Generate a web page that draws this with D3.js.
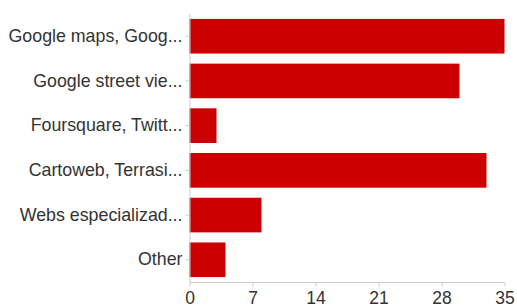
<!DOCTYPE html>
<html><head><meta charset="utf-8">
<script src="https://cdn.jsdelivr.net/npm/d3@7"></script>
<style>body{margin:0;background:#fff}svg{display:block}text{font-family:"Liberation Sans",Arial,sans-serif}</style>
</head><body>
<svg id="c" width="517" height="307"></svg>
<script>
const categories = ["Google maps, Goog...","Google street vie...","Foursquare, Twitt...","Cartoweb, Terrasi...","Webs especializad...","Other"];
const values = [35, 30, 3, 33, 8, 4];
const ticks = [0, 7, 14, 21, 28, 35];

const svg = d3.select("#c");
const x = d3.scaleLinear().domain([0, 35]).range([189.5, 504.5]);
const y = d3.scaleBand().domain(categories).range([14, 282]).paddingInner(0.225).paddingOuter(0.11);

svg.selectAll("rect.bar").data(values).join("rect")
  .attr("class","bar")
  .attr("x", x(0))
  .attr("y", (d,i)=>y(categories[i]))
  .attr("width", d=>x(d)-x(0))
  .attr("height", y.bandwidth())
  .attr("fill", "#cc0000");

// y axis
const ya = svg.append("g").attr("transform",`translate(${x(0)},0)`)
  .call(d3.axisLeft(y).tickSize(4).tickPadding(3));
ya.select(".domain").attr("stroke","#ccc").attr("d", `M0.5,14V282`);
ya.selectAll(".tick line").attr("stroke","#ccc");
ya.selectAll(".tick text").attr("fill","#333").style("font-size","17.8px");

// x axis
const xa = svg.append("g").attr("transform",`translate(0,282.5)`)
  .call(d3.axisBottom(x).tickValues(ticks).tickSize(4).tickPadding(5));
xa.select(".domain").attr("stroke","#ccc").attr("d", `M${x(0)},0H${x(35)}`);
xa.selectAll(".tick line").attr("stroke","#ccc");
xa.selectAll(".tick text").attr("fill","#333").style("font-size","17.5px");
</script>
</body></html>
